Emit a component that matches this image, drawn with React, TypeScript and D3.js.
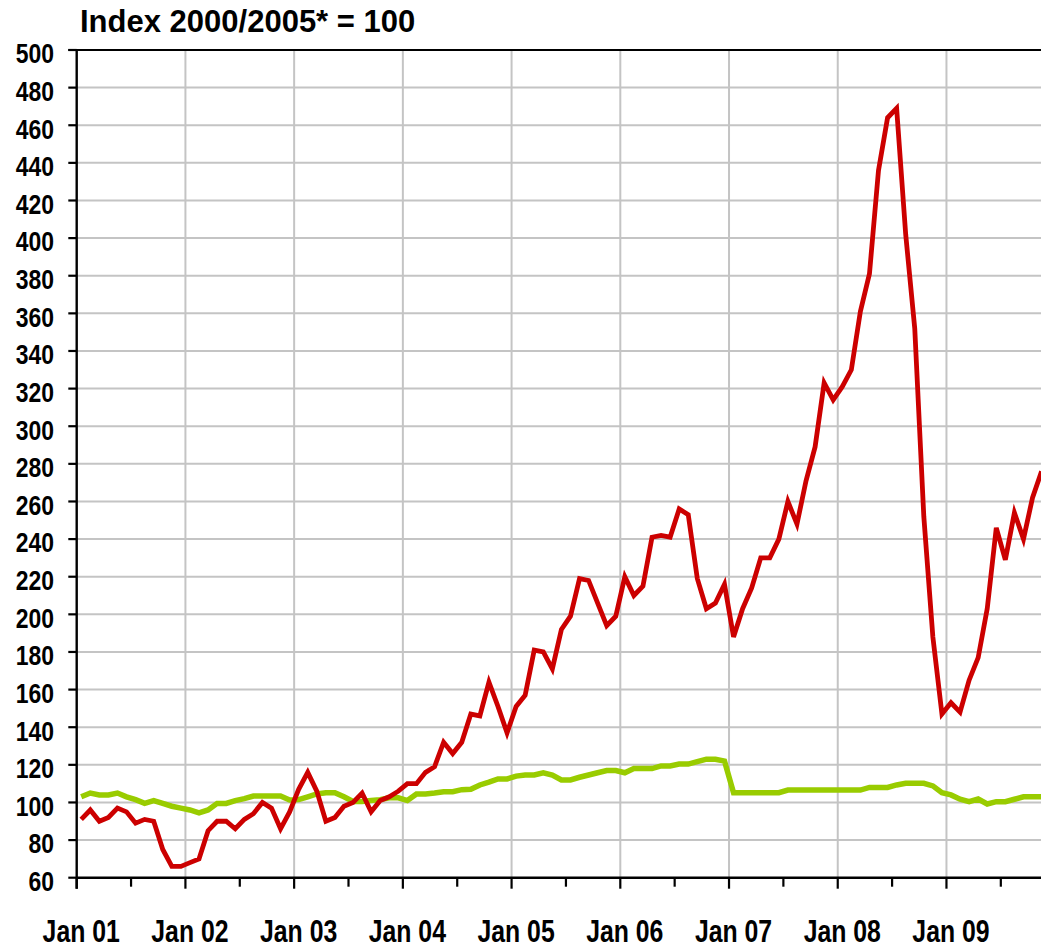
import React from "react";
import * as d3 from "d3";

// Monthly values, Jan 2001 .. Nov 2009
const redSeries: number[] = [
  // 2001
  91, 96, 90, 92, 97, 95, 89, 91, 90, 75, 66, 66,
  // 2002
  68, 70, 85, 90, 90, 86, 91, 94, 100, 97, 86, 95,
  // 2003
  107, 116, 106, 90, 92, 98, 100, 105, 95, 101, 103, 106,
  // 2004
  110, 110, 116, 119, 132, 126, 132, 147, 146, 164, 151, 137,
  // 2005
  151, 157, 181, 180, 171, 192, 199, 219, 218, 206, 194, 199,
  // 2006
  220, 210, 215, 241, 242, 241, 256, 253, 219, 203, 206, 216,
  // 2007
  188, 203, 214, 230, 230, 240, 260, 248, 271, 289, 323, 314,
  // 2008
  321, 330, 361, 381, 436, 464, 469, 402, 352, 252, 188, 147,
  // 2009
  153, 148, 165, 177, 203, 246, 229, 254, 240, 262, 276,
];

const greenSeries: number[] = [
  // 2001
  103, 105, 104, 104, 105, 103, 101.5, 99.5, 101, 99.5, 98, 97,
  // 2002
  96, 94.5, 96, 99.5, 99.5, 101, 102, 103.4, 103.4, 103.4, 103.4, 101.3,
  // 2003
  101.5, 103, 104.5, 105.2, 105.2, 103, 100.5, 100.5, 101, 101.5, 102.5, 102.5,
  // 2004
  101, 104.5, 104.5, 105, 105.7, 105.7, 106.8, 107, 109.3, 110.8, 112.5, 112.5,
  // 2005
  114, 114.6, 114.6, 115.8, 114.6, 112, 112, 113.4, 114.6, 115.8, 117, 117,
  // 2006
  115.8, 118, 118, 118, 119.4, 119.4, 120.4, 120.4, 121.7, 123, 123, 122,
  // 2007
  105.2, 105.2, 105.2, 105.2, 105.2, 105.2, 106.6, 106.6, 106.6, 106.6, 106.6, 106.6,
  // 2008
  106.6, 106.6, 106.6, 108, 108, 108, 109.3, 110.2, 110.2, 110.2, 108.8, 105.2,
  // 2009
  104, 101.7, 100.4, 101.8, 99.2, 100.4, 100.4, 101.7, 103, 103, 103,
];

const yearLabels: string[] = ["Jan 01", "Jan 02", "Jan 03", "Jan 04", "Jan 05", "Jan 06", "Jan 07", "Jan 08", "Jan 09"];
const yTicks: number[] = d3.range(60, 501, 20);
const titleText = "Index 2000/2005* = 100";

const W = 1041;
const H = 948;
const left = 76.7;
const monthW = 9.06;
const totalMonths = 108;
const top = 50;
const bottom = 877.7;

export default function App() {
  const x = d3.scaleLinear().domain([0, totalMonths]).range([left, left + totalMonths * monthW]);
  const y = d3.scaleLinear().domain([60, 500]).range([bottom, top]);

  const line = d3
    .line<number>()
    .x((_, i) => x(i + 0.5))
    .y((d) => y(d));

  const font = "'Liberation Sans', Arial, sans-serif";

  const majorTicks = yearLabels.map((_, i) => i * 12);
  const minorTicks = yearLabels.map((_, i) => i * 12 + 6);

  return (
    <div style={{ position: "absolute", left: 0, top: 0 }}>
      <svg width={W} height={H} style={{ display: "block", background: "#ffffff" }}>
        <defs>
          <clipPath id="plotClip">
            <rect x={left} y={0} width={W - left} height={bottom + 4} />
          </clipPath>
        </defs>
        {/* horizontal gridlines */}
        {yTicks
          .filter((t) => t > 60 && t < 500)
          .map((t) => (
            <line key={"hg" + t} x1={left} x2={W} y1={y(t)} y2={y(t)} stroke="#c4c4c4" strokeWidth={2} />
          ))}
        {/* vertical gridlines */}
        {majorTicks.slice(1).map((m) => (
          <line key={"vg" + m} x1={x(m)} x2={x(m)} y1={top} y2={bottom} stroke="#c4c4c4" strokeWidth={2} />
        ))}

        {/* series */}
        <g clipPath="url(#plotClip)">
          <path d={line(greenSeries) || ""} fill="none" stroke="#99cc00" strokeWidth={5.5} strokeLinejoin="miter" />
          <path d={line(redSeries) || ""} fill="none" stroke="#cc0000" strokeWidth={4.8} strokeLinejoin="miter" />
        </g>

        {/* top border */}
        <line x1={68.3} x2={W} y1={top} y2={top} stroke="#000" strokeWidth={2.2} />
        {/* axes */}
        <line x1={left} x2={left} y1={top} y2={bottom + 11} stroke="#000" strokeWidth={2.4} />
        <line x1={left} x2={W} y1={bottom} y2={bottom} stroke="#000" strokeWidth={2.4} />

        {/* y ticks & labels */}
        {yTicks.map((t) => (
          <g key={"yt" + t}>
            <line x1={68.3} x2={left} y1={y(t)} y2={y(t)} stroke="#000" strokeWidth={2.2} />
            <g transform={`translate(54, ${y(t) + 3.5}) scale(0.82, 1)`}>
              <text
                x={0}
                y={0}
                textAnchor="end"
                dominantBaseline="central"
                fontFamily={font}
                fontWeight="bold"
                fontSize={28}
                fill="#000"
              >
                {t}
              </text>
            </g>
          </g>
        ))}

        {/* x ticks */}
        {majorTicks.map((m) => (
          <line key={"xt" + m} x1={x(m)} x2={x(m)} y1={bottom} y2={bottom + 11} stroke="#000" strokeWidth={2.2} />
        ))}
        {minorTicks.map((m) => (
          <line key={"xm" + m} x1={x(m)} x2={x(m)} y1={bottom} y2={bottom + 9} stroke="#000" strokeWidth={2.2} />
        ))}
        {yearLabels.map((lab, i) => (
          <g key={lab} transform={`translate(${x(i * 12) + 4.5}, 941.5) scale(0.8, 1)`}>
            <text x={0} y={0} textAnchor="middle" fontFamily={font} fontWeight="bold" fontSize={31} fill="#000">
              {lab}
            </text>
          </g>
        ))}

        {/* title */}
        <text x={80} y={32.3} fontFamily={font} fontWeight="bold" fontSize={31} fill="#000">
          {titleText}
        </text>
      </svg>
    </div>
  );
}
